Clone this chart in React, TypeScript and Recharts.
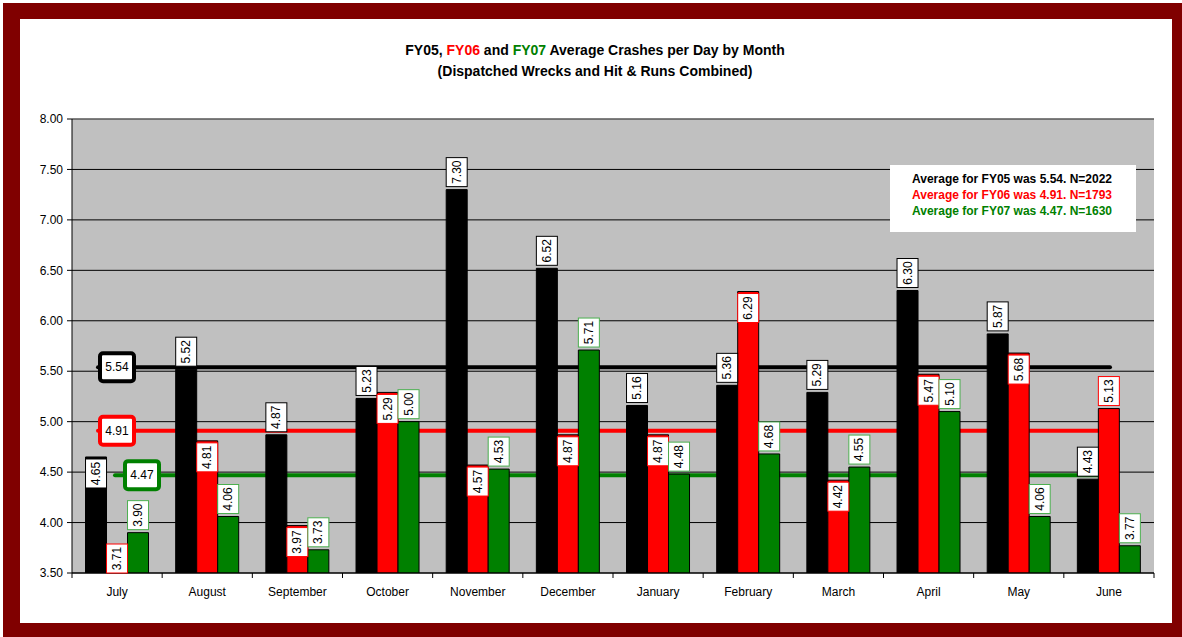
import React from "react";
import {
  BarChart,
  Bar,
  XAxis,
  YAxis,
  CartesianGrid,
  ReferenceLine,
  LabelList,
} from "recharts";

const months = [
  "July", "August", "September", "October", "November", "December",
  "January", "February", "March", "April", "May", "June",
];
const fy05 = [4.65, 5.52, 4.87, 5.23, 7.3, 6.52, 5.16, 5.36, 5.29, 6.3, 5.87, 4.43];
const fy06 = [3.71, 4.81, 3.97, 5.29, 4.57, 4.87, 4.87, 6.29, 4.42, 5.47, 5.68, 5.13];
const fy07 = [3.9, 4.06, 3.73, 5.0, 4.53, 5.71, 4.48, 4.68, 4.55, 5.1, 4.06, 3.77];
const yTicks = [3.5, 4.0, 4.5, 5.0, 5.5, 6.0, 6.5, 7.0, 7.5, 8.0];
const fyNames = ["FY05", "FY06", "FY07"];
const fyAverages = [5.54, 4.91, 4.47];
const fyCounts = [2022, 1793, 1630];

const FONT = "'Liberation Sans', Arial, sans-serif";
const RED = "#ff0000";
const GREEN = "#008000";

const data = months.map((m, i) => ({
  month: m,
  fy05: fy05[i],
  fy06: fy06[i],
  fy07: fy07[i],
}));

// plot geometry (chart is 1152 wide)
const CHART_W = 1152;
const CHART_H = 604;
const M = { top: 100, right: 18, left: 0, bottom: 20 };
const Y_W = 52;
const BAND = (CHART_W - M.right - Y_W) / months.length;

// value label box; inside(index) decides whether box sits in the bar top
const makeLabel = (border: string, inside: (i: number) => boolean) => (props: any) => {
  const { x, y, width, height, value, index } = props;
  const boxH = 29;
  let top = inside(index) ? y + 2 : y - boxH - 3;
  if (inside(index)) top = Math.min(top, y + height - boxH);
  const cx = x + width / 2;
  const cy = top + boxH / 2;
  return (
    <g>
      <rect x={x} y={top} width={width} height={boxH} fill="#fff" stroke={border} strokeWidth={1} />
      <text
        x={cx}
        y={cy}
        transform={`rotate(-90 ${cx} ${cy})`}
        textAnchor="middle"
        dominantBaseline="central"
        fontSize={12}
        fontFamily={FONT}
        fill="#000"
      >
        {Number(value).toFixed(2)}
      </text>
    </g>
  );
};

const avgShape = (color: string, value: number, boxStart: number, lineStart: number) => (props: any) => {
  const { x1, y1, x2 } = props;
  const bx = x1 + boxStart;
  return (
    <g>
      <line x1={x1 + lineStart} y1={y1} x2={x2 - 44} y2={y1} stroke={color} strokeWidth={4} strokeLinecap="round" />
      <rect x={bx + 2} y={y1 - 14} width={34} height={28} rx={3} fill="#fff" stroke={color} strokeWidth={4} />
      <text x={bx + 19} y={y1} textAnchor="middle" dominantBaseline="central" fontSize={12} fontFamily={FONT} fill="#000">
        {value.toFixed(2)}
      </text>
    </g>
  );
};

const MonthTick = (props: any) => {
  const { x, y, payload, index } = props;
  return (
    <g>
      <line x1={x - BAND / 2} y1={y} x2={x - BAND / 2} y2={y + 5} stroke="#000" />
      {index === months.length - 1 && (
        <line x1={x + BAND / 2} y1={y} x2={x + BAND / 2} y2={y + 5} stroke="#000" />
      )}
      <text x={x} y={y + 23} textAnchor="middle" fontSize={12} fontFamily={FONT} fill="#000">
        {payload.value}
      </text>
    </g>
  );
};

const avgColors = ["#000", RED, GREEN];

export default function App() {
  return (
    <div style={{ position: "absolute", left: 0, top: 0, width: 1182, height: 637, background: "#fff", fontFamily: FONT }}>
      <div style={{ position: "absolute", left: 3, top: 3, width: 1179, height: 634, background: "#800000" }} />
      <div style={{ position: "absolute", left: 20, top: 19, width: CHART_W, height: CHART_H, background: "#fff" }}>
        <BarChart
          width={CHART_W}
          height={CHART_H}
          data={data}
          margin={M}
          barCategoryGap="15%"
          barGap={0}
        >
          <CartesianGrid vertical={false} stroke="#000" fill="#c0c0c0" />
          <ReferenceLine y={8} stroke="#808080" />
          {fyAverages.map((v, i) => (
            <ReferenceLine
              key={fyNames[i]}
              y={v}
              zIndex={250}
              shape={avgShape(avgColors[i], v, i === 2 ? 51 : 26, i === 2 ? 43 : 26)}
            />
          ))}
          <XAxis
            dataKey="month"
            height={30}
            tickSize={0}
            tickMargin={0}
            tickLine={false}
            axisLine={{ stroke: "#000" }}
            tick={<MonthTick />}
            interval={0}
          />
          <YAxis
            width={Y_W}
            domain={[3.5, 8]}
            ticks={yTicks}
            allowDataOverflow
            tickFormatter={(v: number) => v.toFixed(2)}
            tick={{ fontSize: 12, fontFamily: FONT, fill: "#000" }}
            tickSize={5}
            tickMargin={4}
            axisLine={{ stroke: "#000" }}
            tickLine={{ stroke: "#000" }}
          />
          <YAxis
            yAxisId="right"
            orientation="right"
            width={0}
            domain={[3.5, 8]}
            tick={false}
            tickLine={false}
            axisLine={{ stroke: "#808080" }}
          />
          <Bar dataKey="fy05" fill="#000" stroke="#000" isAnimationActive={false}>
            <LabelList dataKey="fy05" content={makeLabel("#000", (i) => i === 0)} />
          </Bar>
          <Bar dataKey="fy06" fill={RED} stroke="#000" isAnimationActive={false}>
            <LabelList dataKey="fy06" content={makeLabel(RED, (i) => i !== months.length - 1)} />
          </Bar>
          <Bar dataKey="fy07" fill={GREEN} stroke="#000" isAnimationActive={false}>
            <LabelList dataKey="fy07" content={makeLabel("#4caf50", () => false)} />
          </Bar>
        </BarChart>
      </div>
      <div
        style={{
          position: "absolute",
          left: 0,
          width: 1190,
          top: 40,
          textAlign: "center",
          fontWeight: "bold",
          fontSize: 14,
          lineHeight: "21px",
          color: "#000",
        }}
      >
        <div>
          FY05, <span style={{ color: RED }}>FY06</span> and <span style={{ color: GREEN }}>FY07</span> Average Crashes per Day by Month
        </div>
        <div>(Dispatched Wrecks and Hit &amp; Runs Combined)</div>
      </div>
      <div
        style={{
          position: "absolute",
          left: 890,
          top: 165,
          width: 224,
          height: 61,
          padding: "6px 0 0 22px",
          background: "#fff",
          fontWeight: "bold",
          fontSize: 12,
          lineHeight: "16px",
        }}
      >
        {fyNames.map((n, i) => (
          <div key={n} style={{ color: avgColors[i] }}>
            Average for {n} was {fyAverages[i].toFixed(2)}. N={fyCounts[i]}
          </div>
        ))}
      </div>
    </div>
  );
}
